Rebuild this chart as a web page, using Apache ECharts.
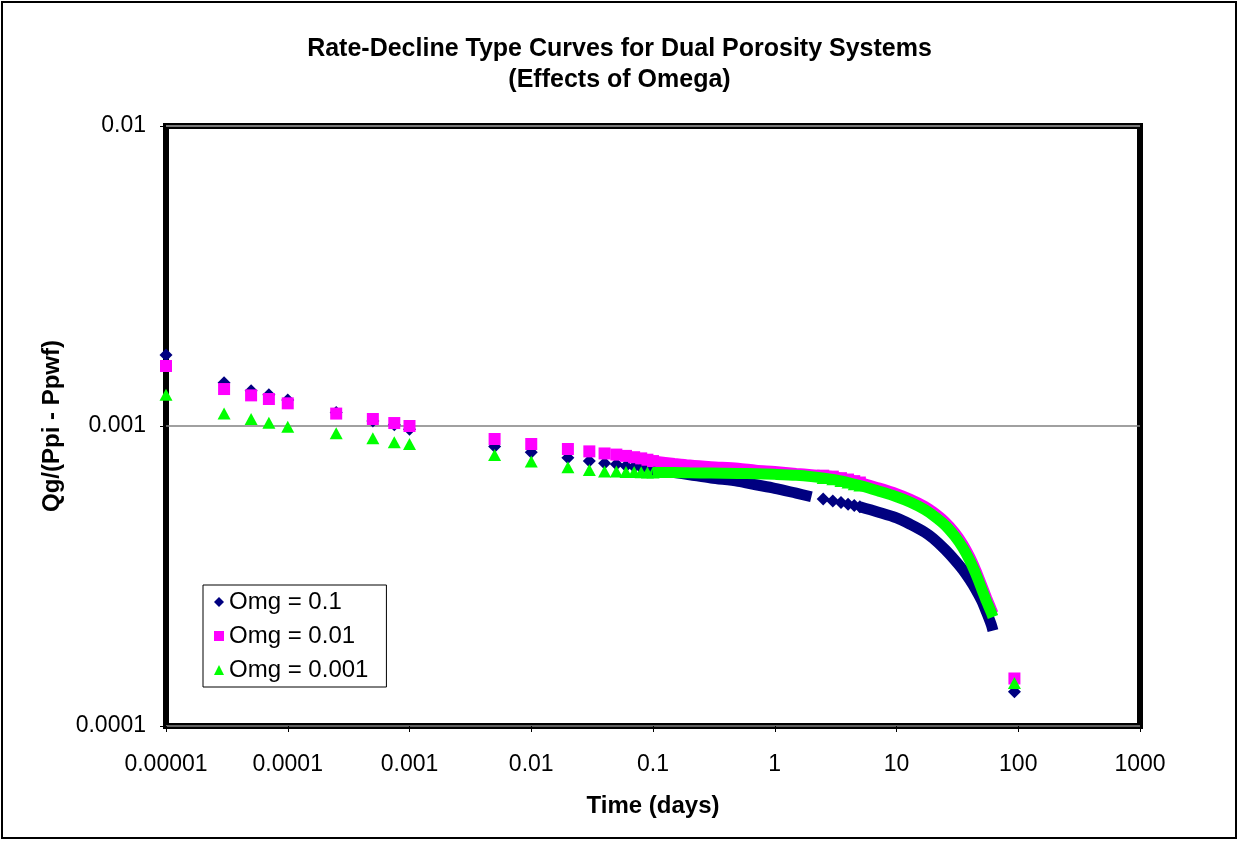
<!DOCTYPE html>
<html>
<head>
<meta charset="utf-8">
<script src="https://cdn.jsdelivr.net/npm/echarts@6/dist/echarts.min.js"></script>
<style>
  html, body { margin: 0; padding: 0; background: #fff; }
  #main { width: 1239px; height: 841px; }
</style>
</head>
<body>
<div id="main"></div>
<script>
// tick labels
var xTickLabels = ['0.00001', '0.0001', '0.001', '0.01', '0.1', '1', '10', '100', '1000'];
var yTickLabels = ['0.0001', '0.001', '0.01'];

// separate markers (days)
var pointTimes = [0.00001, 0.00003, 0.00005, 0.00007, 0.0001, 0.00025, 0.0005, 0.00075, 0.001,
                  0.005, 0.01, 0.02, 0.03, 0.04, 0.05, 0.06, 0.07, 0.08, 0.09, 0.1,
                  2.5, 3, 3.5, 4, 4.5, 5, 93];
var omg01Points = [0.001725, 0.001393, 0.00131, 0.00127, 0.001222, 0.00111, 0.00104, 0.00101, 0.000975,
                   0.000854, 0.000817, 0.000784, 0.000764, 0.000751, 0.000745, 0.000736, 0.000731, 0.000726, 0.000721, 0.000716,
                   0.000571, 0.000562, 0.000556, 0.000548, 0.000543, 0.000538, 0.00013];
var omg001Points = [0.001585, 0.001328, 0.001265, 0.00123, 0.00119, 0.0011, 0.001055, 0.001023, 0.001,
                    0.000905, 0.000871, 0.000838, 0.000823, 0.00081, 0.000803, 0.000795, 0.000787, 0.00078, 0.000772, 0.000764,
                    0.000683, 0.000678, 0.00067, 0.000663, 0.000655, 0.000648, 0.000144];
var omg0001Points = [0.00127, 0.0011, 0.001055, 0.001026, 0.000995, 0.000946, 0.00091, 0.000883, 0.000871,
                     0.0008, 0.000762, 0.000728, 0.000714, 0.000705, 0.000705, 0.000703, 0.000702, 0.000701, 0.0007, 0.0007,
                     0.000671, 0.000664, 0.000656, 0.000648, 0.00064, 0.000633, 0.000139];

// dense part of the curves, where the markers merge into a band
var bandTimes = [0.1, 0.15, 0.2, 0.3, 0.5, 0.7, 1, 1.5, 2, 3, 4, 5, 7, 10, 13, 17, 20, 25, 30, 35, 40, 45, 50, 55, 60, 62];
var omg01Band = [0.000716, 0.0007, 0.000688, 0.000671, 0.000654, 0.000637, 0.00062, 0.000597, 0.000581, null, null,
                 0.000538, 0.000517, 0.000494, 0.00047, 0.000443, 0.000422, 0.000388, 0.000358, 0.000332, 0.000307,
                 0.000284, 0.000262, 0.000239, 0.000218, 0.000208];
var omg001Band = [0.000764, 0.00075, 0.000741, 0.000732, 0.000723, 0.000712, 0.000705, 0.000695, 0.000688, 0.000678, 0.000663,
                  0.000648, 0.000623, 0.000595, 0.00057, 0.00054, 0.000517, 0.00048, 0.000442, 0.000404, 0.000366,
                  0.000329, 0.000295, 0.000267, 0.000245, 0.000237];
var omg0001Band = [0.0007, 0.0007, 0.000698, 0.000697, 0.000695, 0.000693, 0.00069, 0.000685, 0.000678, 0.000664, 0.000648,
                   0.000633, 0.000608, 0.000581, 0.000557, 0.000527, 0.000504, 0.000468, 0.00043, 0.000393, 0.000356,
                   0.00032, 0.000287, 0.00026, 0.000239, 0.000231];

var names = ['Omg = 0.1', 'Omg = 0.01', 'Omg = 0.001'];
var colors = ['#000080', '#ff00ff', '#00ff00'];
var symbols = ['diamond', 'rect', 'triangle'];
var symbolSizes = [[13, 13], [12, 12], [13, 12]];

function pairs(xs, ys) {
    var out = [];
    for (var i = 0; i < xs.length; i++) out.push([xs[i], ys[i]]);
    return out;
}

var pointSets = [omg01Points, omg001Points, omg0001Points];
var bandSets = [omg01Band, omg001Band, omg0001Band];

var series = [];
for (var k = 0; k < 3; k++) {
    series.push({
        name: names[k] + ' band',
        type: 'line',
        data: pairs(bandTimes, bandSets[k]),
        showSymbol: false,
        connectNulls: false,
        smooth: 0.3,
        lineStyle: { color: colors[k], width: 11 },
        itemStyle: { color: colors[k] },
        silent: true
    });
    series.push({
        name: names[k],
        type: 'scatter',
        data: pairs(pointTimes, pointSets[k]),
        symbol: symbols[k],
        symbolSize: symbolSizes[k],
        itemStyle: { color: colors[k], opacity: 1 }
    });
}

var font = 'Liberation Sans, Arial, sans-serif';

option = {
    backgroundColor: '#fff',
    animation: false,
    textStyle: { fontFamily: font },
    title: {
        text: 'Rate-Decline Type Curves for Dual Porosity Systems\n(Effects of Omega)',
        left: 'center',
        top: 29,
        textStyle: { fontFamily: font, fontSize: 25, fontWeight: 'bold', lineHeight: 31, color: '#000' }
    },
    legend: {
        data: names,
        orient: 'vertical',
        left: 203,
        top: 585,
        padding: [5, 18, 5, 11],
        itemGap: 10,
        itemWidth: 10,
        itemHeight: 10,
        itemTextGap: 16,
        backgroundColor: '#fff',
        borderColor: '#000',
        borderWidth: 1,
        borderRadius: 0,
        textStyle: { fontFamily: font, fontSize: 24, color: '#000' }
    },
    grid: {
        left: 166,
        right: 99,
        top: 126,
        bottom: 115,
        show: true,
        borderColor: '#000',
        borderWidth: 6,
        backgroundColor: '#fff'
    },
    xAxis: {
        type: 'log',
        logBase: 10,
        min: 0.00001,
        max: 1000,
        name: 'Time (days)',
        nameLocation: 'middle',
        nameGap: 68,
        nameTextStyle: { fontFamily: font, fontSize: 24, fontWeight: 'bold', color: '#000' },
        axisLine: { show: false },
        axisTick: { show: true, length: 6, lineStyle: { color: '#000' } },
        axisLabel: {
            margin: 27,
            fontFamily: font,
            fontSize: 23,
            color: '#000',
            formatter: function (v, i) { return xTickLabels[i]; }
        },
        splitLine: { show: false },
        minorTick: { show: false }
    },
    yAxis: {
        type: 'log',
        logBase: 10,
        min: 0.0001,
        max: 0.01,
        name: 'Qg/(Ppi - Ppwf)',
        nameLocation: 'middle',
        nameGap: 102,
        nameTextStyle: { fontFamily: font, fontSize: 24, fontWeight: 'bold', color: '#000' },
        axisLine: { show: false },
        axisTick: { show: true, length: 6, lineStyle: { color: '#000' } },
        axisLabel: {
            margin: 20,
            fontFamily: font,
            fontSize: 23,
            color: '#000',
            formatter: function (v, i) { return yTickLabels[i]; }
        },
        splitLine: { show: true, lineStyle: { color: '#808080', width: 1.5 } }
    },
    graphic: [{
        type: 'rect',
        shape: { x: 2, y: 2, width: 1234, height: 836 },
        style: { fill: 'none', stroke: '#000', lineWidth: 2 },
        silent: true,
        z: 100
    }],
    series: series
};

var myChart = echarts.init(document.getElementById('main'));
myChart.setOption(option);
</script>
</body>
</html>
